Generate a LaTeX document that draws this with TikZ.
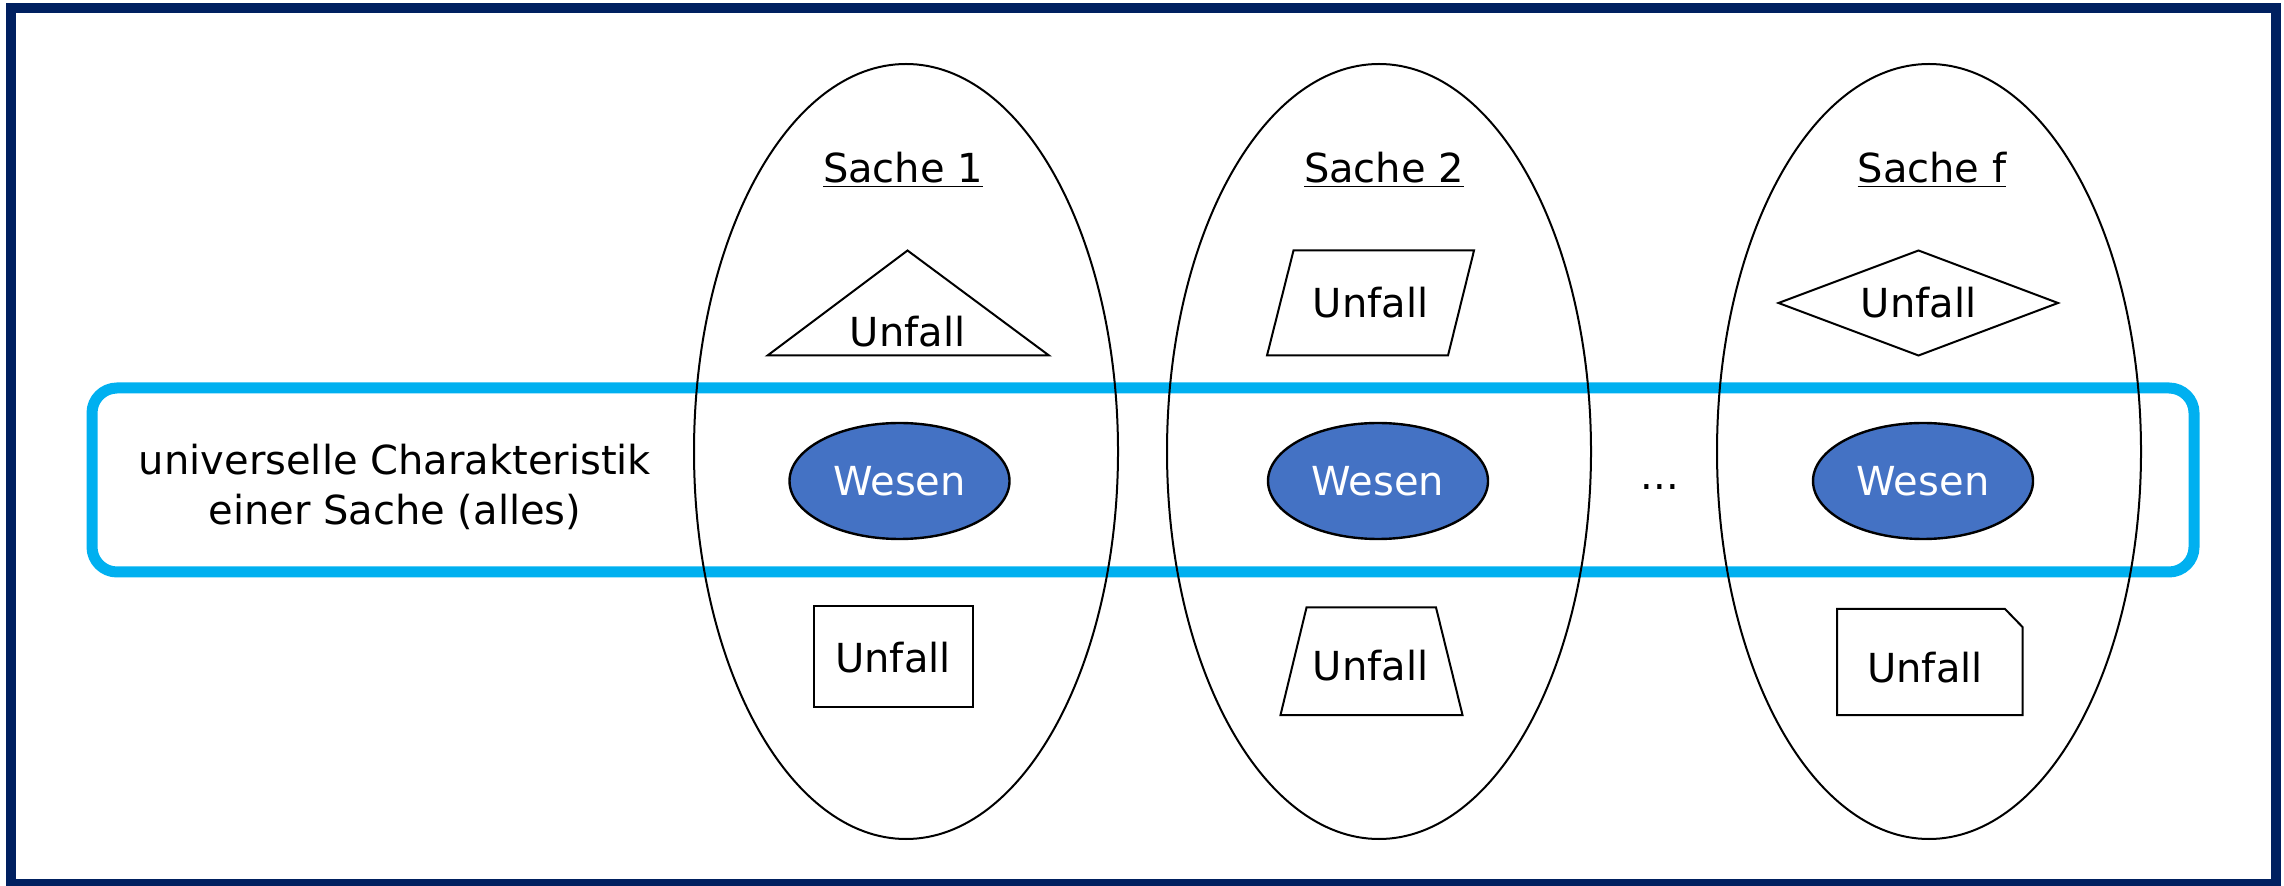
\documentclass[tikz,border=0pt]{standalone}
\usepackage{fontspec}
\setmainfont{DejaVu Sans}
\usepackage{tikz}
\usetikzlibrary{shapes.geometric}

\definecolor{rahmen}{HTML}{002060}
\definecolor{band}{HTML}{00B0F0}
\definecolor{wesenblau}{HTML}{4472C4}

\begin{document}
\begin{tikzpicture}[x=0.5pt,y=-0.5pt,
		every node/.style={font=\fontsize{20}{25}\selectfont},
		sache/.style={draw,ellipse,line width=1pt,minimum width=212pt,minimum height=387.5pt,inner sep=0pt},
		wesen/.style={draw=black,fill=wesenblau,text=white,ellipse,line width=1.2pt,minimum width=110pt,minimum height=58pt,inner sep=0pt},
		form/.style={draw,line width=1pt,line join=miter},
		titel/.style={anchor=base,inner sep=0pt}]
				\useasboundingbox (0,0) rectangle (2284,886);
				\draw[rahmen,line width=5pt] (11,8) rectangle (2276,884);
				\draw[band,line width=5.5pt,rounded corners=12.5pt] (92,388) rectangle (2194,572);
				% Sachen
				\node[sache] (s_1) at (906,451.5) {};
				\node[sache] (s_2) at (1379,451.5) {};
				\node[sache] (s_f) at (1929,451.5) {};
				\node[titel] (t_1) at (903,183) {\underline{Sache 1}};
				\node[titel] (t_2) at (1384,183) {\underline{Sache 2}};
				\node[titel] (t_f) at (1932,183) {\underline{Sache f}};
				% Wesen
				\node[wesen] (w_1) at (899.5,481) {Wesen};
				\node[wesen] (w_2) at (1378,481) {Wesen};
				\node[wesen] (w_f) at (1923,481) {Wesen};
				\node[titel] (dots) at (1660,490) {...};
				\node[align=center] (uc) at (395,487) {universelle Charakteristik\\einer Sache (alles)};
				% obere Formen
				\draw[form] (907.5,250.5) -- (1049,355.5) -- (767.5,355.5) -- cycle;
				\node (u_1o) at (907.5,331.5) {Unfall};
				\draw[form] (1293.5,250.5) -- (1474,250.5) -- (1448,355.5) -- (1267,355.5) -- cycle;
				\node (u_2o) at (1370.5,303) {Unfall};
				\draw[form] (1918.5,250.5) -- (2058,303) -- (1918.5,355.5) -- (1778.5,303) -- cycle;
				\node (u_fo) at (1918.5,303) {Unfall};
				% untere Formen
				\draw[form] (814,606) rectangle (973,706.5);
				\node (u_1u) at (893,658) {Unfall};
				\draw[form] (1306.5,607.5) -- (1436,607.5) -- (1462.5,715) -- (1280.5,715) -- cycle;
				\node (u_2u) at (1370.5,665.5) {Unfall};
				\draw[form] (1837,609) -- (2005,609) -- (2022.5,627) -- (2022.5,715) -- (1837,715) -- cycle;
				\node (u_fu) at (1925,668) {Unfall};
\end{tikzpicture}
\end{document}
